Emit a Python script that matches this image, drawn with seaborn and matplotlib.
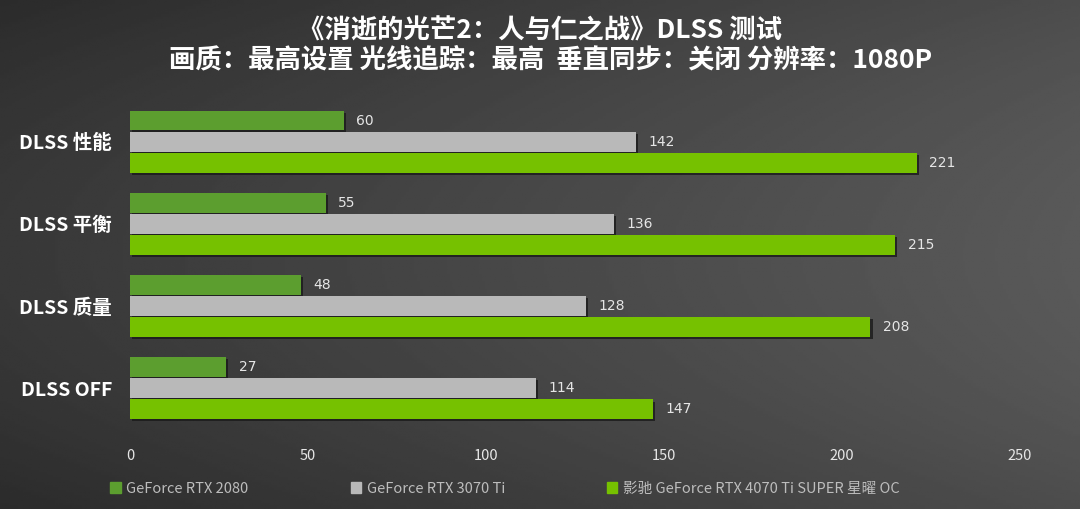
import numpy as np
import pandas as pd
import matplotlib
matplotlib.use("Agg")
import matplotlib.pyplot as plt
import matplotlib.patheffects as pe
import seaborn as sns

# data
categories = ["DLSS 性能", "DLSS 平衡", "DLSS 质量", "DLSS OFF"]
gpus = ["GeForce RTX 2080", "GeForce RTX 3070 Ti", "影驰 GeForce RTX 4070 Ti SUPER 星曜 OC"]
rtx2080 = [60, 55, 48, 27]
rtx3070ti = [142, 136, 128, 114]
rtx4070tis = [221, 215, 208, 147]
x_ticks = [0, 50, 100, 150, 200, 250]

colors = ["#5c9e2f", "#b9b9b9", "#76c100"]

df = pd.DataFrame({
    "mode": categories * 3,
    "gpu": [gpus[0]] * 4 + [gpus[1]] * 4 + [gpus[2]] * 4,
    "fps": rtx2080 + rtx3070ti + rtx4070tis,
})

sns.set_theme(style="white")
plt.rcParams["font.family"] = ["Noto Sans CJK SC", "DejaVu Sans"]

fig = plt.figure(figsize=(10.8, 5.09), dpi=100)

# background gradient
bg = fig.add_axes([0, 0, 1, 1], zorder=-10)
gx = np.linspace(0, 1, 400)
gy = np.linspace(0, 1, 200)
X, Y = np.meshgrid(gx, gy)
shade = 0.22 + 0.13 * X - 0.05 * (Y - 0.5) ** 2 * 4
bg.imshow(shade, cmap="gray", vmin=0, vmax=1, aspect="auto", extent=[0, 1, 0, 1])
bg.axis("off")

ax = fig.add_axes([0.1204, 0.157, 0.824, 0.645])
ax.set_facecolor("none")
sns.barplot(data=df, x="fps", y="mode", hue="gpu", palette=colors, orient="h",
            width=0.77, gap=0.08, ax=ax, legend=False, saturation=1, linewidth=0)

for patch in ax.patches:
    patch.set_path_effects([pe.SimplePatchShadow(offset=(1.5, -1.5), shadow_rgbFace="#1a1a1a", alpha=0.8),
                            pe.Normal()])

for cont in ax.containers:
    ax.bar_label(cont, padding=9, color="#e6e6e6", fontsize=10, family="DejaVu Sans")

ax.set_xlim(0, 250)
ax.set_ylim(3.5, -0.5)
ax.set_xticks(x_ticks)
ax.set_xlabel("")
ax.set_ylabel("")
ax.tick_params(axis="x", colors="#e6e6e6", labelsize=10.5, length=0, pad=14)
ax.tick_params(axis="y", colors="white", labelsize=14, length=0, pad=13)
for lbl in ax.get_yticklabels():
    lbl.set_fontweight("bold")
for s in ax.spines.values():
    s.set_visible(False)
ax.grid(False)

fig.text(0.5, 0.94, "《消逝的光芒2：人与仁之战》DLSS 测试", ha="center", va="center",
         color="white", fontsize=19, fontweight="bold")
fig.text(0.51, 0.882, "画质：最高设置 光线追踪：最高  垂直同步：关闭 分辨率：1080P", ha="center", va="center",
         color="white", fontsize=19, fontweight="bold")

handles = [plt.Rectangle((0, 0), 1, 1, color=c) for c in colors]
leg = fig.legend(handles, gpus, loc="center left", bbox_to_anchor=(0.09, 0.04), ncol=3,
                 frameon=False, fontsize=10.5, handlelength=0.7, handleheight=0.7,
                 handletextpad=0.4, columnspacing=7.0)
for t in leg.get_texts():
    t.set_color("#bdbdbd")

fig.savefig("out.png", dpi=100)
